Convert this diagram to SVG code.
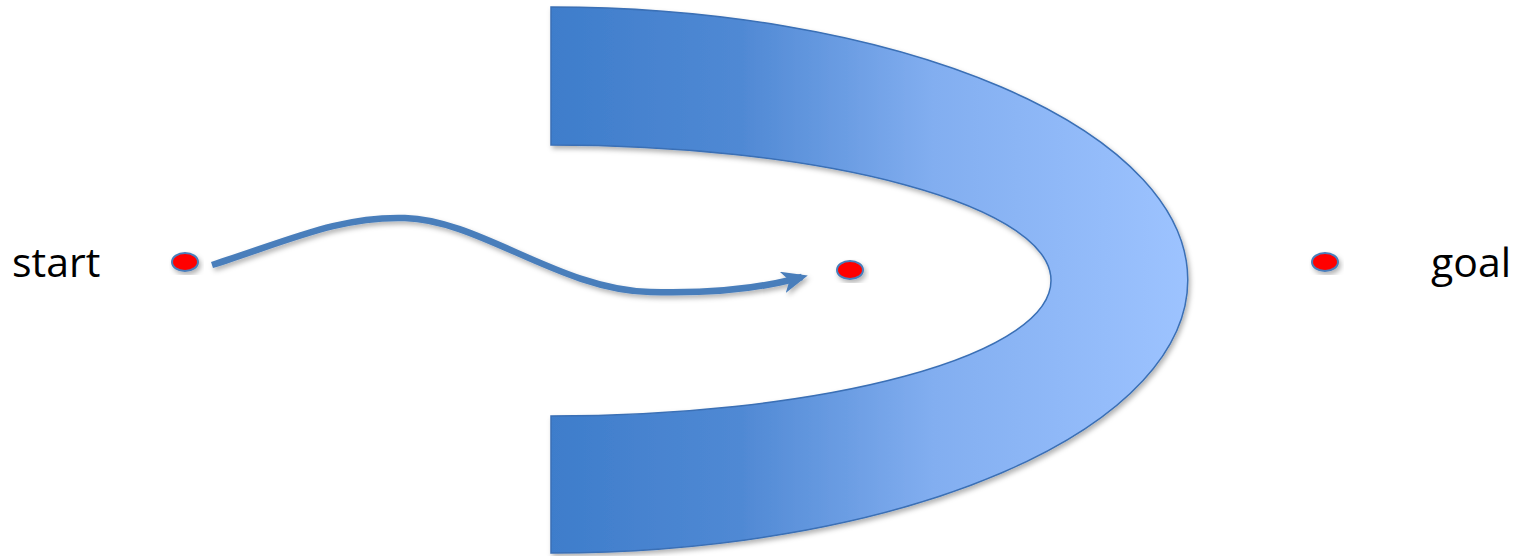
<svg xmlns="http://www.w3.org/2000/svg" width="1519" height="556" viewBox="0 0 1519 556">
  <style>
    .lbl { font-family: "Open Sans", "Liberation Sans", sans-serif; font-size: 41px; fill: #000; }
    .dot { fill: #ff0000; stroke: #4a7ebb; stroke-width: 2; }
    .conn { fill: none; stroke: #4a7ebb; stroke-width: 6.5; }
  </style>
  <defs>
    <linearGradient id="ug" gradientUnits="userSpaceOnUse" x1="551" y1="0" x2="1188" y2="0">
      <stop offset="0" stop-color="#3e7dcb"/>
      <stop offset="0.3" stop-color="#5089d4"/>
      <stop offset="0.6" stop-color="#82aef0"/>
      <stop offset="1" stop-color="#9dc3ff"/>
    </linearGradient>
    <filter id="sh" x="-10%" y="-10%" width="130%" height="130%">
      <feDropShadow dx="2" dy="3" stdDeviation="2.5" flood-color="#000" flood-opacity="0.3"/>
    </filter>
    <marker id="ah" viewBox="0 0 26 22" refX="20" refY="11" markerWidth="26" markerHeight="22" markerUnits="userSpaceOnUse" orient="auto">
      <path d="M0,0 L26,11 L0,22 L7,11 Z" fill="#4a7ebb"/>
    </marker>
  </defs>
  <g id="ushape" filter="url(#sh)">
    <path d="M551,7 A637,273 0 0 1 551,553 L551,416 A500,135.5 0 0 0 551,145 Z" fill="url(#ug)" stroke="#3a6fb5" stroke-width="1.5"/>
  </g>
  <g id="connectors">
    <path class="conn" d="M212,265 C290,240 340,216 405,218 C480,220 560,290 650,292 C720,294 770,286 802,277" marker-end="url(#ah)" filter="url(#sh)"/>
  </g>
  <g id="start-node">
    <ellipse class="dot" cx="185" cy="262" rx="13" ry="9" filter="url(#sh)"/>
    <text class="lbl" x="12" y="277">start</text>
  </g>
  <g id="mid-node">
    <ellipse class="dot" cx="850" cy="270" rx="13" ry="9" filter="url(#sh)"/>
  </g>
  <g id="goal-node">
    <ellipse class="dot" cx="1325" cy="262" rx="13" ry="9" filter="url(#sh)"/>
    <text class="lbl" x="1431" y="277">goal</text>
  </g>
</svg>
